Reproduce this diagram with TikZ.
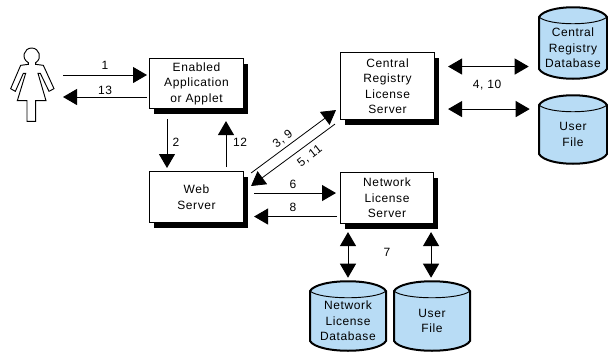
\documentclass[tikz,border=0pt]{standalone}
\usepackage{fontspec}
\setmainfont[LetterSpace=5]{Liberation Sans}
\usetikzlibrary{arrows.meta,calc}
\definecolor{dbblue}{RGB}{184,220,245}
\tikzset{
  x=0.75pt,y=-0.75pt,
  lbl/.style={font=\fontsize{9pt}{11.6pt}\selectfont,align=center,inner sep=0pt},
  boxn/.style={draw,fill=white,line width=0.8pt,lbl,anchor=north west,inner sep=0pt},
  shadowbox/.style={fill=black},
  arr/.style={line width=0.75pt,-{Triangle[length=10.5pt,width=12pt]}},
  darr/.style={line width=0.75pt,{Triangle[length=10.5pt,width=12pt]}-{Triangle[length=10.5pt,width=12pt]}},
  slimarr/.style={line width=0.6pt,-{Triangle[length=10.5pt,width=12pt]}},
  dbtext/.style={lbl,inner sep=0pt}
}
\newcommand{\mybox}[6]{% name x y w h text
  \fill[shadowbox] (#2+5,#3+6) rectangle ++(#4,#5);
  \node[boxn,minimum width=#4*0.75pt,minimum height=#5*0.75pt] (#1) at (#2,#3) {#6};
}
\newcommand{\mydb}[6]{% name x1 y1 x2 y2 text
  \draw[line width=1.5pt,fill=dbblue]
    (#2,#3+10) .. controls (#2+8,#3-3) and (#4-8,#3-3) .. (#4,#3+10)
    -- (#4,#5-10) .. controls (#4-8,#5+3) and (#2+8,#5+3) .. (#2,#5-10) -- cycle;
  \draw[line width=0.7pt] (#2,#3+10) .. controls (#2+10,#3+19) and (#4-10,#3+19) .. (#4,#3+10);
  \node[dbtext,minimum width=(#4-#2)*0.75pt,minimum height=(#5-#3)*0.75pt] (#1) at ({(#2+#4)/2},{(#3+#5)/2+5}) {#6};
}
\begin{document}
\begin{tikzpicture}
\useasboundingbox (0,0) rectangle (608,354);
% person (outline given in units of a third of a pixel)
\begin{scope}[x=0.25pt,y=-0.25pt,shift={(0pt,-22.5pt)}]
  \draw[line width=0.7pt,fill=white]
    (85,98) .. controls (62,85) and (72,54) .. (95,54)
    .. controls (118,54) and (128,85) .. (107,98)
    -- (107,103) -- (130,106) -- (162,176) -- (147,184) -- (121,130)
    -- (114,130) -- (138,212) -- (107,212) -- (107,274) -- (81,274) -- (81,212)
    -- (52,212) -- (77,130) -- (70,130) -- (46,184) -- (32,176) -- (62,106)
    -- (85,103) -- cycle;
\end{scope}
\coordinate (pa) at (63,75);
\coordinate (pb) at (63,97);
\mybox{app}{149}{58}{94}{50}{Enabled\\Application\\or Applet}
\mybox{web}{149}{171}{94}{51}{Web\\Server}
\mybox{crl}{340}{52}{94}{67}{Central\\Registry\\License\\Server}
\mybox{nls}{340}{172}{93}{51}{Network\\License\\Server}
\mydb{crd}{539}{7}{607}{79}{Central\\Registry\\Database}
\mydb{cuf}{539}{95}{607}{164}{User\\File}
\mydb{nld}{310}{281}{386}{351}{Network\\License\\Database}
\mydb{nuf}{394}{281}{470}{351}{User\\File}
% connector ends
\coordinate (s2) at ($(app.south west)+(18,10)$);
\coordinate (s12) at ($(web.north west)+(77,-4)$);
\coordinate (s6) at ($(web.east)+(10,-4)$);
\coordinate (s8) at ($(nls.west)+(-3,18.5)$);
\coordinate (s4) at ($(crl.east)+(13,-19.5)$);
\coordinate (s10) at ($(crl.south east)+(13,-11)$);
\coordinate (s7a) at ($(nls.south west)+(8,8)$);
\coordinate (s7b) at ($(nls.south east)+(-3,8)$);
% connectors
\draw[arr,shorten >=1.5pt] (pa) -- (pa -| app.west);
\draw[arr,shorten <=1.5pt] (pb -| app.west) -- (pb);
\draw[arr,shorten >=2.25pt] (s2) -- (s2 |- web.north);
\draw[arr] (s12) -- ($(s12 |- app.south)+(0,12)$);
\draw[slimarr] ($(web.north east)+(7,2)$) -- ($(crl.south west)+(-4,-10)$);
\draw[slimarr] ($(crl.south west)+(-5,4)$) -- ($(web.north east)+(7,15)$);
\draw[arr,shorten >=3pt] (s6) -- (s6 -| nls.west);
\draw[arr,shorten >=-1.5pt] (s8) -- ($(s8 -| web.east)+(12,0)$);
\draw[darr,shorten >=7.5pt] (s4) -- (s4 -| crd.west);
\draw[darr,shorten >=6.75pt] (s10) -- (s10 -| cuf.west);
\draw[darr,shorten >=6pt] (s7a) -- (s7a |- nld.north);
\draw[darr,shorten >=6pt] (s7b) -- (s7b |- nuf.north);
% labels
\node[lbl] (l1) at (105,65) {1};
\node[lbl] (l13) at (105,90) {13};
\node[lbl] (l2) at (176,142) {2};
\node[lbl] (l12) at (240,142) {12};
\node[lbl,rotate=38] (l39) at (283,139) {3, 9};
\node[lbl,rotate=38] (l511) at (310,156) {5, 11};
\node[lbl] (l6) at (293,184) {6};
\node[lbl] (l8) at (293,207) {8};
\node[lbl] (l410) at (487,85) {4, 10};
\node[lbl] (l7) at (387,252) {7};
\end{tikzpicture}
\end{document}
